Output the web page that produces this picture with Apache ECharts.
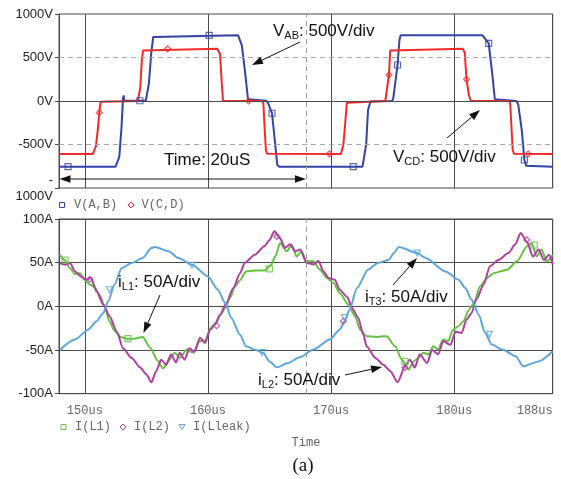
<!DOCTYPE html>
<html>
<head>
<meta charset="utf-8">
<script src="https://cdn.jsdelivr.net/npm/echarts@6/dist/echarts.min.js"></script>
<style>
  html, body { margin: 0; padding: 0; background: #ffffff; }
  #chart { width: 561px; height: 479px; }
</style>
</head>
<body>
<div id="chart"></div>
<script>
// ---- axis ranges and tick labels (time in microseconds) ----
const timeMin = 147.9;
const timeMax = 188;
const timeTicks = [150, 160, 170, 180, 188];
const voltTicks = [-1000, -500, 0, 500, 1000];
const ampTicks = [-100, -50, 0, 50, 100];
const cursorTime = 168;

// ---- bridge voltages [time us, volts] ----
const vAB = [
  [147.9, -755], [152.5, -755], [152.65, -735], [152.8, -640], [152.98, -295], [153.1, 30],
  [153.15, 65], [153.2, 5], [154.95, 3], [155.05, 20], [155.2, 200], [155.4, 560], [155.55, 735],
  [155.65, 755], [162.45, 755], [162.6, 735], [162.75, 640], [163.0, 350], [163.25, 20], [163.35, 3],
  [164.75, 3], [164.9, -30], [165.2, -141], [165.45, -483], [165.63, -735], [165.8, -755],
  [172.55, -755], [172.7, -735], [172.85, -500], [173.0, -103], [173.2, -5], [174.95, 0],
  [175.05, 30], [175.4, 414], [175.55, 700], [175.65, 755], [182.3, 755], [182.45, 735],
  [182.8, 663], [183.1, 300], [183.3, 20], [183.4, 3], [185.05, 0], [185.2, -40], [185.5, -350],
  [185.7, -678], [185.85, -745], [186.0, -755], [188, -755]
];
const vCD = [
  [147.9, -608], [150.65, -608], [150.8, -590], [150.9, -520], [151.05, -330], [151.17, -134],
  [151.28, -10], [151.35, 0], [154.3, 0], [154.4, 10], [154.5, 150], [154.62, 450], [154.72, 580],
  [154.85, 600], [160.75, 600], [160.88, 590], [160.98, 540], [161.1, 250], [161.22, 0],
  [164.4, 0], [164.5, -30], [164.6, -300], [164.7, -560], [164.8, -605], [164.9, -608],
  [170.8, -608], [170.9, -590], [171.0, -500], [171.15, -250], [171.28, -20], [171.35, 0],
  [174.4, 0], [174.55, 5], [174.7, 299], [174.8, 580], [174.9, 600], [180.7, 600], [180.85, 560],
  [181.0, 249], [181.2, 60], [181.35, 0], [184.45, 0], [184.55, -30], [184.65, -300],
  [184.75, -560], [184.85, -605], [184.95, -608], [188, -608]
];
const vABMarks = [[148.64, -755], [154.47, 3], [160.1, 755], [165.2, -141], [171.8, -755], [175.4, 414], [182.8, 663], [185.7, -678]];
const vCDMarks = [[151.17, -134], [156.72, 600], [163.3, 0], [169.86, -608], [174.7, 299], [181.0, 249], [186.0, -608]];

// ---- inductor currents [time us, amps] ----
const iL1 = [
  [147.97, 59], [148.37, 53], [148.78, 44], [149.19, 37], [149.6, 38], [150.0, 30], [150.4, 25],
  [150.8, 22], [151.2, 13], [151.6, 0], [152.0, -17], [152.4, -28], [152.9, -35], [153.4, -37],
  [154.0, -37], [154.7, -35], [155.3, -47], [155.9, -62], [156.35, -71], [156.9, -61],
  [157.3, -53], [157.7, -59], [158.3, -49.5], [158.8, -53], [159.35, -40], [159.8, -39],
  [160.2, -25], [160.6, -19], [161.0, -10], [161.4, -2], [161.8, 10], [162.2, 23], [162.6, 30],
  [163.1, 40], [163.8, 41], [164.6, 41], [165.1, 47], [165.5, 58], [165.85, 72.5], [166.4, 63],
  [166.8, 70.6], [167.2, 57], [167.6, 63], [168.0, 51.5], [168.56, 51.5], [169.1, 42],
  [169.65, 32.5], [170.2, 26.8], [170.7, 15.3], [171.4, 2], [171.95, -11.4], [172.36, -26.7],
  [172.9, -34.3], [173.7, -35], [174.5, -34.3], [175.2, -45.8], [175.75, -61], [176.3, -72.4],
  [176.7, -63], [177.1, -59], [177.5, -53], [177.9, -55], [178.3, -45.8], [178.7, -49.5],
  [179.1, -38], [179.5, -40], [179.9, -26.7], [180.35, -22.9], [180.75, -17], [181.2, -3.8],
  [181.6, 3.8], [182.1, 22.9], [182.65, 32.5], [183.2, 38], [184.3, 42], [185.1, 51.5],
  [185.9, 68.6], [186.3, 72.5], [186.7, 57], [187.1, 65], [187.5, 51.5], [188.0, 59]
];
const iL2 = [
  [147.97, 49.6], [148.4, 47.7], [148.8, 49.6], [149.2, 40], [149.7, 34], [150.1, 30.5],
  [150.5, 32.5], [150.95, 17], [151.5, 2], [152.0, -11], [152.6, -29], [153.1, -48], [153.8, -59],
  [154.5, -70], [155.0, -78], [155.4, -87], [155.8, -74], [156.2, -61], [156.6, -67], [157.0, -55],
  [157.4, -64], [157.7, -53], [158.1, -61], [158.5, -48], [158.9, -52], [159.35, -36],
  [159.76, -42], [160.16, -27], [160.57, -21], [160.98, -10], [161.5, 4], [162.06, 21],
  [162.6, 38], [163.0, 50], [163.8, 59], [164.6, 69], [165.0, 76], [165.4, 86], [165.85, 78],
  [166.26, 67], [166.67, 71], [167.07, 63], [167.5, 65], [168.0, 50], [168.56, 48], [168.97, 52],
  [169.38, 40], [169.8, 32.5], [170.3, 30.5], [170.7, 19], [171.3, 11], [171.7, -2], [172.2, -13],
  [172.6, -32], [172.9, -46], [173.6, -59], [174.25, -67], [174.8, -74], [175.4, -87],
  [176.0, -69], [176.4, -61], [176.8, -70], [177.2, -55], [177.8, -65], [178.2, -50],
  [178.7, -55], [179.1, -40], [179.7, -44], [180.1, -29], [180.6, -30.5], [181.0, -15],
  [181.4, -8], [181.8, 8], [182.4, 25], [182.9, 46], [183.6, 53], [184.4, 61], [184.96, 71],
  [185.4, 84], [185.9, 74], [186.4, 57], [186.85, 65], [187.3, 53], [187.7, 59], [188.0, 48]
];
const iLleak = [
  [147.97, -50], [149.19, -38], [150.27, -26.7], [150.95, -17], [151.5, -7.6], [151.9, 5.7],
  [152.4, 24.8], [153.0, 44], [153.8, 49.6], [154.7, 55.4], [155.4, 66.8], [155.7, 68],
  [156.8, 63], [157.6, 55.4], [158.7, 47.7], [160.0, 34.3], [160.8, 19], [161.4, 3.8],
  [161.9, -13.3], [162.6, -32.4], [163.1, -45.8], [163.8, -49.5], [164.5, -53.4], [165.0, -63],
  [165.6, -69.8], [166.5, -64.8], [167.5, -58], [168.56, -49.5], [169.9, -38], [170.7, -26.7],
  [171.1, -17], [171.5, -3.8], [172.1, 21], [173.0, 42], [173.8, 49.6], [174.7, 53.4],
  [175.1, 61], [175.5, 68], [177.0, 61], [177.6, 56], [179.3, 40], [180.35, 30.5], [180.9, 21],
  [181.4, 7.7], [182.0, -9.5], [182.5, -30.5], [183.05, -43.8], [183.9, -49.5], [185.0, -57],
  [185.6, -68.6], [186.85, -63], [188.0, -51.5]
];
const iL1Marks = [[148.4, 53], [153.5, -37], [165.0, 43], [176.0, -63], [186.5, 70]];
const iL2Marks = [[150.4, 31], [160.7, -22], [165.6, 80], [171.0, -17], [176.0, -70], [185.9, 76]];
const iLleakMarks = [[152.0, 19], [158.7, 47], [164.4, -53], [171.1, -13], [177.0, 61], [182.85, -32]];

// ---- styling ----
const COL_AB = '#3343a8';
const COL_CD = '#f22a2a';
const COL_L1 = '#66c044';
const COL_L2 = '#b03ea2';
const COL_LK = '#5ea4dd';
const GRID_DARK = '#4a4a4a';
const MONO = '"Liberation Mono", "DejaVu Sans Mono", monospace';
const SANS = '"Liberation Sans", Arial, sans-serif';

const chart = echarts.init(document.getElementById('chart'), null, { renderer: 'canvas' });

function timeAxis(gridIndex, showLabels) {
  return {
    type: 'value', gridIndex, min: timeMin, max: timeMax,
    axisLine: { show: true, lineStyle: { color: GRID_DARK, width: 1 } },
    axisTick: { show: showLabels, length: 7, customValues: timeTicks, lineStyle: { color: GRID_DARK } },
    axisLabel: {
      show: showLabels, customValues: timeTicks, margin: 11, alignMaxLabel: 'right',
      fontFamily: MONO, fontSize: 12, color: '#666', formatter: v => v + 'us'
    },
    splitLine: { show: true, lineStyle: { color: GRID_DARK, width: 1 } }
  };
}

function lineSeries(name, data, color, xi, z, smooth) {
  return {
    name, type: 'line', data, xAxisIndex: xi, yAxisIndex: xi, showSymbol: false,
    smooth: smooth ? 0.25 : false, smoothMonotone: 'x', sampling: 'none', silent: true, z,
    lineStyle: { color, width: 2 }, itemStyle: { color }
  };
}

function markSeries(data, color, symbol, xi, z, rotate) {
  return {
    type: 'scatter', data, xAxisIndex: xi, yAxisIndex: xi, symbol, symbolSize: 6,
    symbolRotate: rotate || 0, silent: true, z,
    itemStyle: { color: 'rgba(255,255,255,0)', borderColor: color, borderWidth: 1.2 }
  };
}

function arrow(x1, y1, x2, y2) {
  const a = Math.atan2(y2 - y1, x2 - x1), L = 11, W = 3.8;
  const bx = x2 - L * Math.cos(a), by = y2 - L * Math.sin(a);
  return [
    { type: 'line', shape: { x1, y1, x2: bx, y2: by }, style: { stroke: '#111', lineWidth: 1 }, z: 100 },
    { type: 'polygon', z: 100, shape: { points: [[x2, y2], [bx + W * Math.sin(a), by - W * Math.cos(a)], [bx - W * Math.sin(a), by + W * Math.cos(a)]] }, style: { fill: '#111' } }
  ];
}

function label(x, y, main, sub, rest) {
  return {
    type: 'text', x, y, z: 100,
    style: {
      text: '{m|' + main + '}{s|' + sub + '}{m|' + rest + '}',
      verticalAlign: 'middle',
      rich: {
        m: { fontSize: 17, fontFamily: SANS, fill: '#111', lineHeight: 20 },
        s: { fontSize: 11, fontFamily: SANS, fill: '#111', lineHeight: 12, verticalAlign: 'bottom' }
      }
    }
  };
}

function legendText(x, y, text) {
  return { type: 'text', x, y, z: 100, style: { text, fontFamily: MONO, fontSize: 12, fill: '#666', verticalAlign: 'middle' } };
}
function legendSquare(cx, cy, color) {
  return { type: 'rect', z: 100, shape: { x: cx - 2.5, y: cy - 2.5, width: 5, height: 5 }, style: { fill: 'none', stroke: color, lineWidth: 1 } };
}
function legendDiamond(cx, cy, color) {
  return { type: 'polygon', z: 100, shape: { points: [[cx, cy - 3], [cx + 3, cy], [cx, cy + 3], [cx - 3, cy]] }, style: { fill: 'none', stroke: color, lineWidth: 1 } };
}
function legendTriangle(cx, cy, color) {
  return { type: 'polygon', z: 100, shape: { points: [[cx - 3, cy - 2.5], [cx + 3, cy - 2.5], [cx, cy + 2.5]] }, style: { fill: 'none', stroke: color, lineWidth: 1 } };
}

const refLine = { silent: true, symbol: 'none', label: { show: false }, animation: false };

const option = {
  animation: false,
  backgroundColor: '#ffffff',
  grid: [
    { left: 59, top: 14, width: 493.7, height: 174, show: true, borderColor: GRID_DARK, borderWidth: 1, backgroundColor: 'transparent' },
    { left: 59, top: 219, width: 493.7, height: 174.7, show: true, borderColor: GRID_DARK, borderWidth: 1, backgroundColor: 'transparent' }
  ],
  xAxis: [timeAxis(0, false), timeAxis(1, true)],
  yAxis: [
    {
      type: 'value', gridIndex: 0, min: voltTicks[0], max: voltTicks[voltTicks.length - 1], interval: 500,
      axisLine: { show: true, lineStyle: { color: GRID_DARK } },
      axisTick: { show: true, length: 4, lineStyle: { color: GRID_DARK } },
      axisLabel: {
        margin: 6, fontFamily: SANS, fontSize: 13, color: '#222', lineHeight: 16,
        formatter: v => (v === -1000 ? '-\n1000V' : v + 'V')
      },
      splitLine: { show: false }
    },
    {
      type: 'value', gridIndex: 1, min: ampTicks[0], max: ampTicks[ampTicks.length - 1], interval: 50,
      axisLine: { show: true, lineStyle: { color: GRID_DARK } },
      axisTick: { show: true, length: 4, lineStyle: { color: GRID_DARK } },
      axisLabel: { margin: 6, fontFamily: SANS, fontSize: 13, color: '#222', formatter: v => v + 'A' },
      splitLine: { show: true, lineStyle: { color: GRID_DARK, width: 1 } }
    }
  ],
  series: [
    {
      type: 'line', data: [], xAxisIndex: 0, yAxisIndex: 0, z: 1, silent: true,
      markLine: Object.assign({}, refLine, {
        data: [
          { yAxis: 500, lineStyle: { type: [5, 4], color: '#a8a8a8', width: 1 } },
          { yAxis: -500, lineStyle: { type: [5, 4], color: '#a8a8a8', width: 1 } },
          { yAxis: 0, lineStyle: { type: 'solid', color: GRID_DARK, width: 1 } },
          { xAxis: cursorTime, lineStyle: { type: [5, 4], color: '#999', width: 1 } }
        ]
      })
    },
    {
      type: 'line', data: [], xAxisIndex: 1, yAxisIndex: 1, z: 1, silent: true,
      markLine: Object.assign({}, refLine, {
        data: [{ xAxis: cursorTime, lineStyle: { type: [5, 4], color: '#999', width: 1 } }]
      })
    },
    lineSeries('V(A,B)', vAB, COL_AB, 0, 3, false),
    lineSeries('V(C,D)', vCD, COL_CD, 0, 4, false),
    markSeries(vABMarks, COL_AB, 'rect', 0, 5),
    markSeries(vCDMarks, COL_CD, 'diamond', 0, 5),
    lineSeries('I(L1)', iL1, COL_L1, 1, 3, true),
    lineSeries('I(L2)', iL2, COL_L2, 1, 4, true),
    lineSeries('I(Lleak)', iLleak, COL_LK, 1, 5, true),
    markSeries(iL1Marks, COL_L1, 'rect', 1, 6),
    markSeries(iL2Marks, COL_L2, 'diamond', 1, 6),
    markSeries(iLleakMarks, COL_LK, 'triangle', 1, 6, 180)
  ],
  graphic: [].concat(
    // annotations on the voltage plot
    [label(273, 31, 'V', 'AB', ': 500V/div')],
    arrow(300, 42, 252, 65),
    [{ type: 'text', x: 164, y: 160, z: 100, style: { text: 'Time: 20uS', fontFamily: SANS, fontSize: 17, fill: '#111', verticalAlign: 'middle' } }],
    arrow(150, 179, 59.5, 179),
    arrow(150, 179, 306, 179),
    [label(393, 157, 'V', 'CD', ': 500V/div')],
    arrow(447, 138, 480, 110),
    // annotations on the current plot
    [label(118, 282, 'i', 'L1', ': 50A/div')],
    arrow(160, 295, 143.5, 333),
    [label(258, 380, 'i', 'L2', ': 50A/div')],
    arrow(345, 375, 382, 367),
    [label(365, 297, 'i', 'T3', ': 50A/div')],
    arrow(393, 285, 417, 258),
    // legends
    [
      legendSquare(62, 205, COL_AB), legendText(74, 205, 'V(A,B)'),
      legendDiamond(131, 205, COL_CD), legendText(141.5, 205, 'V(C,D)'),
      legendSquare(63.5, 427, COL_L1), legendText(75, 427, 'I(L1)'),
      legendDiamond(123, 427, COL_L2), legendText(134, 427, 'I(L2)'),
      legendTriangle(182, 427, COL_LK), legendText(193, 427, 'I(Lleak)'),
      { type: 'text', x: 306, y: 443, z: 100, style: { text: 'Time', fontFamily: MONO, fontSize: 12, fill: '#666', align: 'center', verticalAlign: 'middle' } },
      { type: 'text', x: 303, y: 466, z: 100, style: { text: '(a)', fontFamily: '"Liberation Serif", "Times New Roman", serif', fontSize: 19, fill: '#111', align: 'center', verticalAlign: 'middle' } }
    ]
  )
};

chart.setOption(option);
</script>
</body>
</html>
